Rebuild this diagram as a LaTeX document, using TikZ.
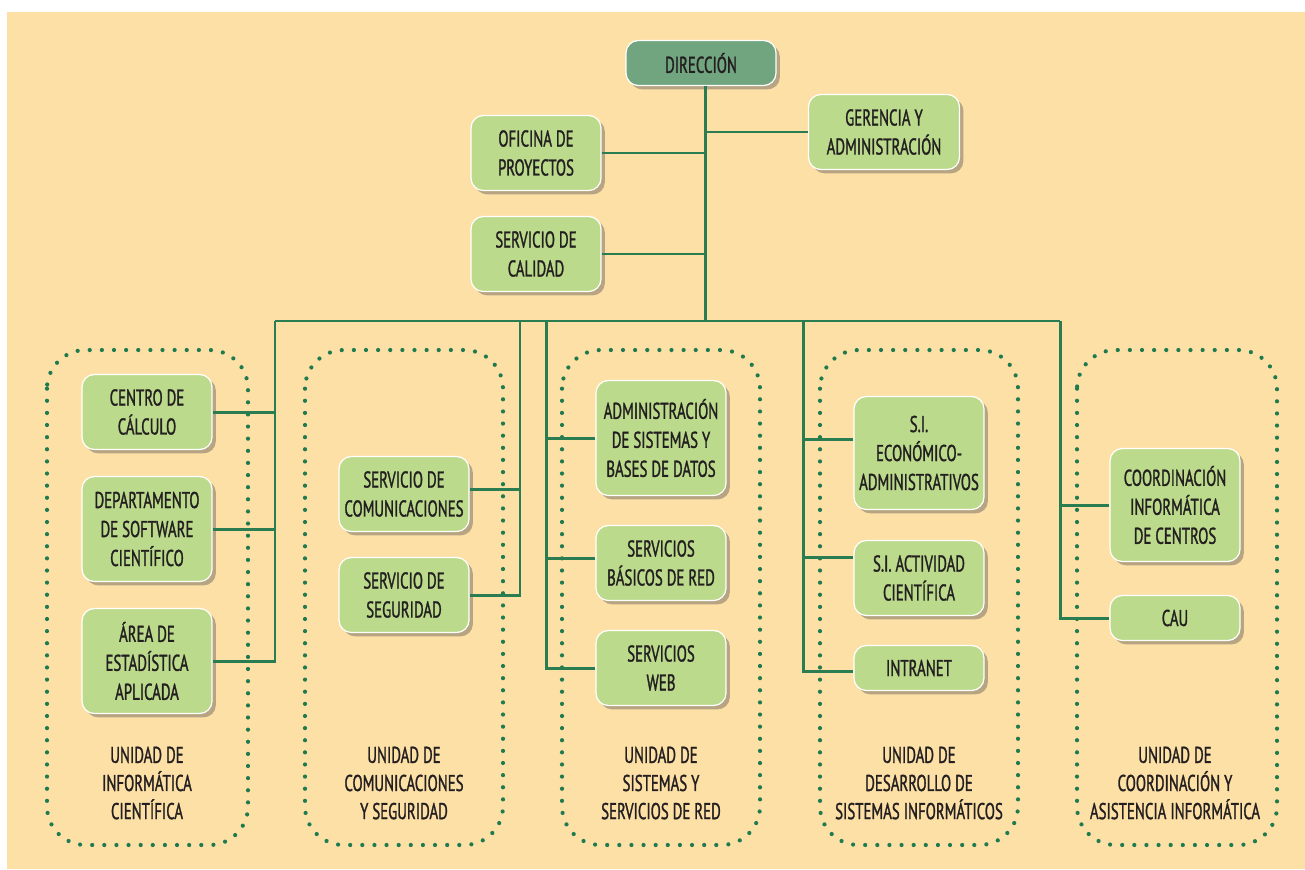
\documentclass[tikz,border=0pt]{standalone}
\usepackage{fontspec}
\setmainfont[FakeStretch=0.65, FakeBold=1.2]{PT Sans}
\usetikzlibrary{shadows}
\definecolor{ink}{HTML}{231F20}
\definecolor{paper}{HTML}{FDE0A6}
\definecolor{line}{HTML}{2A7D50}
\definecolor{dotline}{HTML}{1F7B4F}
\definecolor{boxfill}{HTML}{BBDA8B}
\definecolor{headfill}{HTML}{70A57F}

\begin{document}
\begin{tikzpicture}[
  x=0.02cm, y=-0.02cm,
  font=\fontsize{13}{16.5}\selectfont,
  text=ink,
  box/.style={
    draw=white,
    line width=0.7pt,
    rounded corners=7pt,
    fill=boxfill,
    align=center,
    inner sep=2pt,
    minimum width=2.6cm,
    minimum height=1.5cm,
    drop shadow={shadow xshift=2.2pt, shadow yshift=-2.2pt, fill=black!70, opacity=0.4}
  },
  head/.style={box, fill=headfill, minimum width=3cm, minimum height=0.9cm},
  link/.style={draw=line, line width=1.7pt},
  unit/.style={
    draw=dotline,
    line width=2.4pt,
    line cap=round,
    dash pattern=on 0pt off 6.9pt,
    rounded corners=22pt
  },
  note/.style={align=center, font=\fontsize{13}{16}\selectfont}
]
\useasboundingbox (0,0) rectangle (1305,869);
\fill[paper] (7,12) rectangle (1305,869);

% Top of the chart
\node[head] (dir) at (701,63) {DIRECCIÓN};
\node[box, minimum width=3.02cm] (ger) at (884,132) {GERENCIA Y\\ADMINISTRACIÓN};
\node[box] (ofi) at (536,153) {OFICINA DE\\PROYECTOS};
\node[box] (cal) at (536,254) {SERVICIO DE\\CALIDAD};

\coordinate (hub) at (705,321);
\draw[link] (dir.south -| hub) -- (hub);
\draw[link] (ger.west) -- (ger.west -| hub);
\draw[link] (ofi.east) -- (ofi.east -| hub);
\draw[link] (cal.east) -- (cal.east -| hub);

% Bus to the units
\coordinate (b1) at (275,321);
\coordinate (b2) at (520,321);
\coordinate (b3) at (546,321);
\coordinate (b4) at (803,321);
\coordinate (b5) at (1060,321);
\draw[link] (b1) -- (b5);

% Unit frames
\draw[unit] (47,350) rectangle (248,845);
\draw[unit] (305,350) rectangle (503,845);
\draw[unit] (562,350) rectangle (760,845);
\draw[unit] (820,350) rectangle (1018,845);
\draw[unit] (1077,350) rectangle (1277,845);

% Informatica cientifica
\node[box] (ccal) at (147,412) {CENTRO DE\\CÁLCULO};
\node[box, minimum height=2.1cm] (dsc) at (147,529) {DEPARTAMENTO\\DE SOFTWARE\\CIENTÍFICO};
\node[box, minimum height=2.1cm] (aea) at (147,661) {ÁREA DE\\ESTADÍSTICA\\APLICADA};
\node[note] (uic) at (147,783) {UNIDAD DE\\INFORMÁTICA\\CIENTÍFICA};
\draw[link] (b1) |- (aea.east);
\draw[link] (dsc.east) -- (dsc.east -| b1);
\draw[link] (ccal.east) -- (ccal.east -| b1);

% Comunicaciones y seguridad
\node[box] (scom) at (404,494) {SERVICIO DE\\COMUNICACIONES};
\node[box] (sseg) at (404,595) {SERVICIO DE\\SEGURIDAD};
\node[note] (ucs) at (404,783) {UNIDAD DE\\COMUNICACIONES\\Y SEGURIDAD};
\draw[link] (b2) |- (sseg.east);
\coordinate (scom-in) at ([yshift=0.1cm]scom.east);
\draw[link] (scom-in) -- (scom-in -| b2);

% Sistemas y servicios de red
\node[box, minimum height=2.3cm] (asbd) at (661,438) {ADMINISTRACIÓN\\DE SISTEMAS Y\\BASES DE DATOS};
\node[box] (sbr) at (661,563) {SERVICIOS\\BÁSICOS DE RED};
\node[box] (sweb) at (661,668) {SERVICIOS\\WEB};
\node[note] (usr) at (661,783) {UNIDAD DE\\SISTEMAS Y\\SERVICIOS DE RED};
\draw[link] (b3) |- (sweb.west);
\draw[link] (asbd.west) -- (asbd.west -| b3);
\coordinate (sbr-in) at ([yshift=0.1cm]sbr.west);
\draw[link] (sbr-in) -- (sbr-in -| b3);

% Desarrollo de sistemas informaticos
\node[box, minimum height=2.26cm] (sieco) at (919,453) {S.I.\\ECONÓMICO-\\ADMINISTRATIVOS};
\node[box] (siac) at (919,578) {S.I. ACTIVIDAD\\CIENTÍFICA};
\node[box, minimum height=0.9cm] (intra) at (919,668) {INTRANET};
\node[note] (udsi) at (919,783) {UNIDAD DE\\DESARROLLO DE\\SISTEMAS INFORMÁTICOS};
\draw[link] (b4) |- ([yshift=-0.06cm]intra.west);
\coordinate (sieco-in) at ([yshift=0.28cm]sieco.west);
\draw[link] (sieco-in) -- (sieco-in -| b4);
\coordinate (siac-in) at ([yshift=0.42cm]siac.west);
\draw[link] (siac-in) -- (siac-in -| b4);

% Coordinacion y asistencia informatica
\node[box, minimum height=2.26cm] (cic) at (1175,505) {COORDINACIÓN\\INFORMÁTICA\\DE CENTROS};
\node[box, minimum height=0.9cm] (cau) at (1175,618) {CAU};
\node[note] (ucai) at (1175,783) {UNIDAD DE\\COORDINACIÓN Y\\ASISTENCIA INFORMÁTICA};
\draw[link] (b5) |- (cau.west);
\draw[link] (cic.west) -- (cic.west -| b5);

\end{tikzpicture}
\end{document}
